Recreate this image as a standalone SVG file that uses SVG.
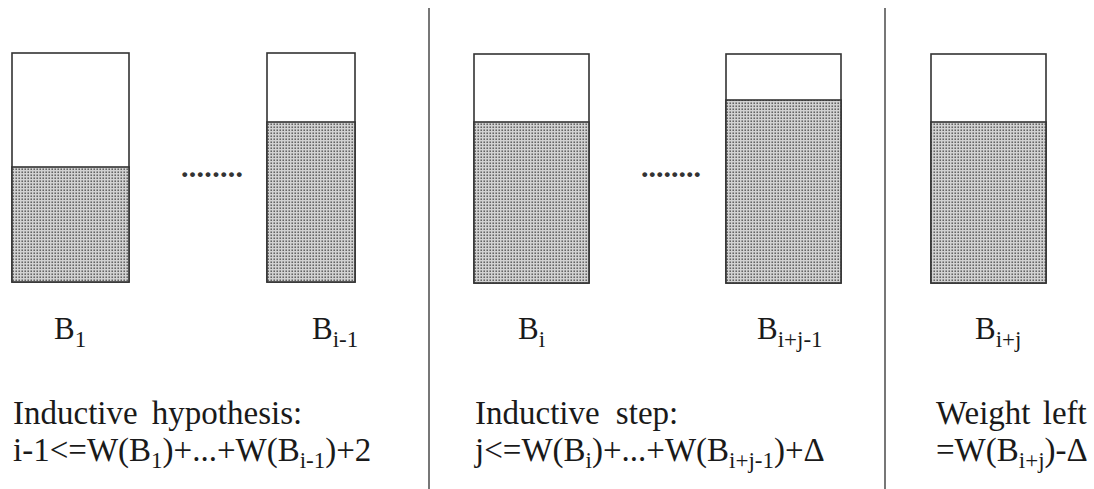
<svg xmlns="http://www.w3.org/2000/svg" width="1094" height="489" viewBox="0 0 1094 489">
  <defs>
    <!-- stipple used for the filled part of each bin -->
    <pattern id="stipple" width="3" height="3" patternUnits="userSpaceOnUse">
      <rect width="3" height="3" fill="#d2d2d2"/>
      <rect x="0.5" y="0.5" width="1.4" height="1.4" fill="#4a4a4a"/>
    </pattern>
  </defs>
  <style>
    .bin { fill: #fff; stroke: #333; stroke-width: 1.6; }
    .fill { fill: url(#stipple); stroke: #333; stroke-width: 1.6; }
    .div { stroke: #555; stroke-width: 1.6; }
    text { font-family: "Liberation Serif", "Times New Roman", serif; fill: #1a1a1a; }
    .lbl { font-size: 31px; }
    .note { font-size: 33px; }
    .sub { font-size: 23px; }
    .dots { font-size: 30px; font-weight: bold; fill: #333; }
  </style>

  <rect width="1094" height="489" fill="#fff"/>

  <!-- section dividers -->
  <g id="dividers">
    <line class="div" x1="429" y1="8" x2="429" y2="489"/>
    <line class="div" x1="885" y1="8" x2="885" y2="489"/>
  </g>

  <g id="bin-b1">
    <rect class="bin" x="12" y="53" width="117" height="229"/>
    <rect class="fill" x="12" y="167" width="117" height="115"/>
    <text class="lbl" x="54" y="339">B<tspan class="sub" dy="8">1</tspan></text>
  </g>

  <g id="gap-1">
    <text class="dots" x="181" y="177" textLength="62" lengthAdjust="spacing">........</text>
  </g>

  <g id="bin-bi-1">
    <rect class="bin" x="267" y="53" width="88" height="229"/>
    <rect class="fill" x="267" y="122" width="88" height="160"/>
    <text class="lbl" x="312" y="339">B<tspan class="sub" dy="8">i-1</tspan></text>
  </g>

  <g id="bin-bi">
    <rect class="bin" x="474" y="54" width="115" height="229"/>
    <rect class="fill" x="474" y="122" width="115" height="161"/>
    <text class="lbl" x="518" y="339">B<tspan class="sub" dy="8">i</tspan></text>
  </g>

  <g id="gap-2">
    <text class="dots" x="641" y="177" textLength="60" lengthAdjust="spacing">........</text>
  </g>

  <g id="bin-bij-1">
    <rect class="bin" x="726" y="54" width="115" height="229"/>
    <rect class="fill" x="726" y="100" width="115" height="183"/>
    <text class="lbl" x="757" y="339">B<tspan class="sub" dy="8">i+j-1</tspan></text>
  </g>

  <g id="bin-bij">
    <rect class="bin" x="931" y="54" width="115" height="229"/>
    <rect class="fill" x="931" y="122" width="115" height="161"/>
    <text class="lbl" x="975" y="339">B<tspan class="sub" dy="8">i+j</tspan></text>
  </g>

  <!-- captions under each section -->
  <g id="caption-hypothesis">
    <text class="note" x="13" y="424" word-spacing="6">Inductive hypothesis:</text>
    <text class="note" x="13" y="461">i-1&lt;=W(B<tspan class="sub" dy="7">1</tspan><tspan dy="-7">)+...+W(B</tspan><tspan class="sub" dy="7">i-1</tspan><tspan dy="-7">)+2</tspan></text>
  </g>

  <g id="caption-step">
    <text class="note" x="475" y="424" word-spacing="8">Inductive step:</text>
    <text class="note" x="475" y="461">j&lt;=W(B<tspan class="sub" dy="7">i</tspan><tspan dy="-7">)+...+W(B</tspan><tspan class="sub" dy="7">i+j-1</tspan><tspan dy="-7">)+Δ</tspan></text>
  </g>

  <g id="caption-left">
    <text class="note" x="936" y="424" word-spacing="4">Weight left</text>
    <text class="note" x="936" y="461">=W(B<tspan class="sub" dy="7">i+j</tspan><tspan dy="-7">)-Δ</tspan></text>
  </g>
</svg>
